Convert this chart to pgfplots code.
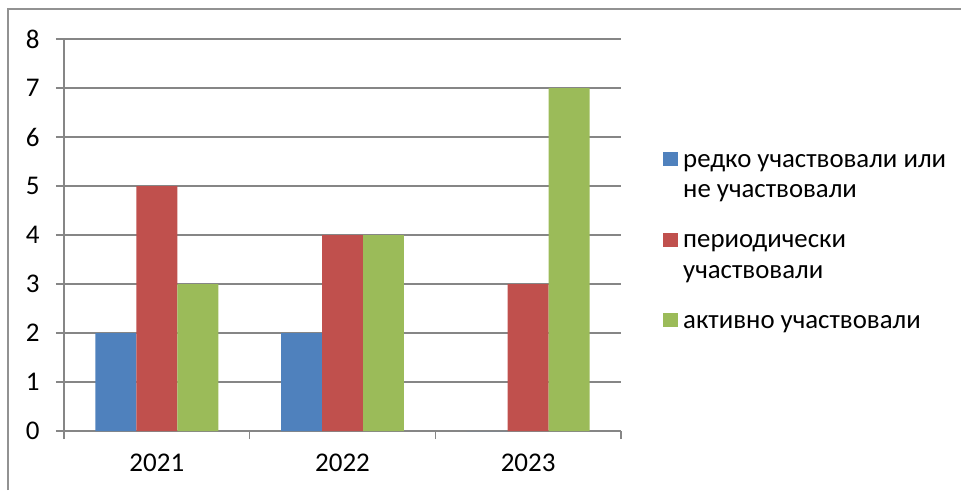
\documentclass[border=0pt]{standalone}
\usepackage{fontspec}
\setmainfont{Carlito}
\usepackage{pgfplots}
\pgfplotsset{compat=1.18}
\definecolor{cblue}{HTML}{4F81BD}
\definecolor{cred}{HTML}{C0504D}
\definecolor{cgreen}{HTML}{9BBB59}
\definecolor{axgray}{HTML}{868686}
\newcommand{\topstrut}{\rule{0pt}{20pt}}
\newcommand{\botstrut}{\rule[-8pt]{0pt}{8pt}}
\pgfplotsset{
  sqhigh/.style={legend image code/.code={\fill[##1] (0pt,31.5pt) rectangle (14.5pt,45.5pt);}},
  sqlow/.style={legend image code/.code={\fill[##1] (0pt,1pt) rectangle (14.5pt,15pt);}},
}
\begin{document}
\begin{tikzpicture}
\useasboundingbox (0pt,0pt) rectangle (961pt,490pt);
\draw[color=axgray!90, line width=1.5pt] (8pt,0pt) -- (8pt,481pt) -- (961pt,481pt);
\begin{axis}[
  at={(64pt,59pt)}, anchor=south west,
  scale only axis, width=557pt, height=392pt,
  xmin=-0.5, xmax=2.5, ymin=0, ymax=8,
  ybar=0pt, bar width=0.2208,
  axis x line*=bottom, axis y line*=left,
  axis line style={color=axgray, line width=1.3pt},
  tick align=outside,
  major tick length=8pt, minor tick length=8pt,
  tick style={color=axgray, line width=1.3pt},
  ytick={0,1,2,3,4,5,6,7,8},
  ymajorgrids, grid style={color=axgray, line width=1.3pt},
  xtick={0,1,2}, xticklabels={2021,2022,2023},
  major x tick style={draw=none},
  minor xtick={-0.5,0.5,1.5,2.5},
  /pgf/number format/assume math mode=true,
  tick label style={font=\fontsize{27}{28}\selectfont, color=black},
  xticklabel style={yshift=-11pt},
  yticklabel style={xshift=-13pt},
  legend style={draw=none, fill=none, inner sep=0pt,
    at={(1.0754,0.4911)}, anchor=west,
    font=\fontsize{26.8}{30.5}\selectfont,
    row sep=28.5pt, column sep=5.5pt,
    nodes={align=left, inner sep=0pt},
    cells={anchor=base west}},
]
\addplot[fill=cblue, draw=none, sqhigh]
  coordinates {(0,2) (1,2) (2,0)};
\addplot[fill=cred, draw=none, sqhigh]
  coordinates {(0,5) (1,4) (2,3)};
\addplot[fill=cgreen, draw=none, sqlow]
  coordinates {(0,3) (1,4) (2,7)};
\legend{\topstrut редко участвовали или\\не участвовали\botstrut,
        \topstrut периодически\\участвовали\botstrut,
        \topstrut активно участвовали\botstrut}
\end{axis}
\end{tikzpicture}
\end{document}
